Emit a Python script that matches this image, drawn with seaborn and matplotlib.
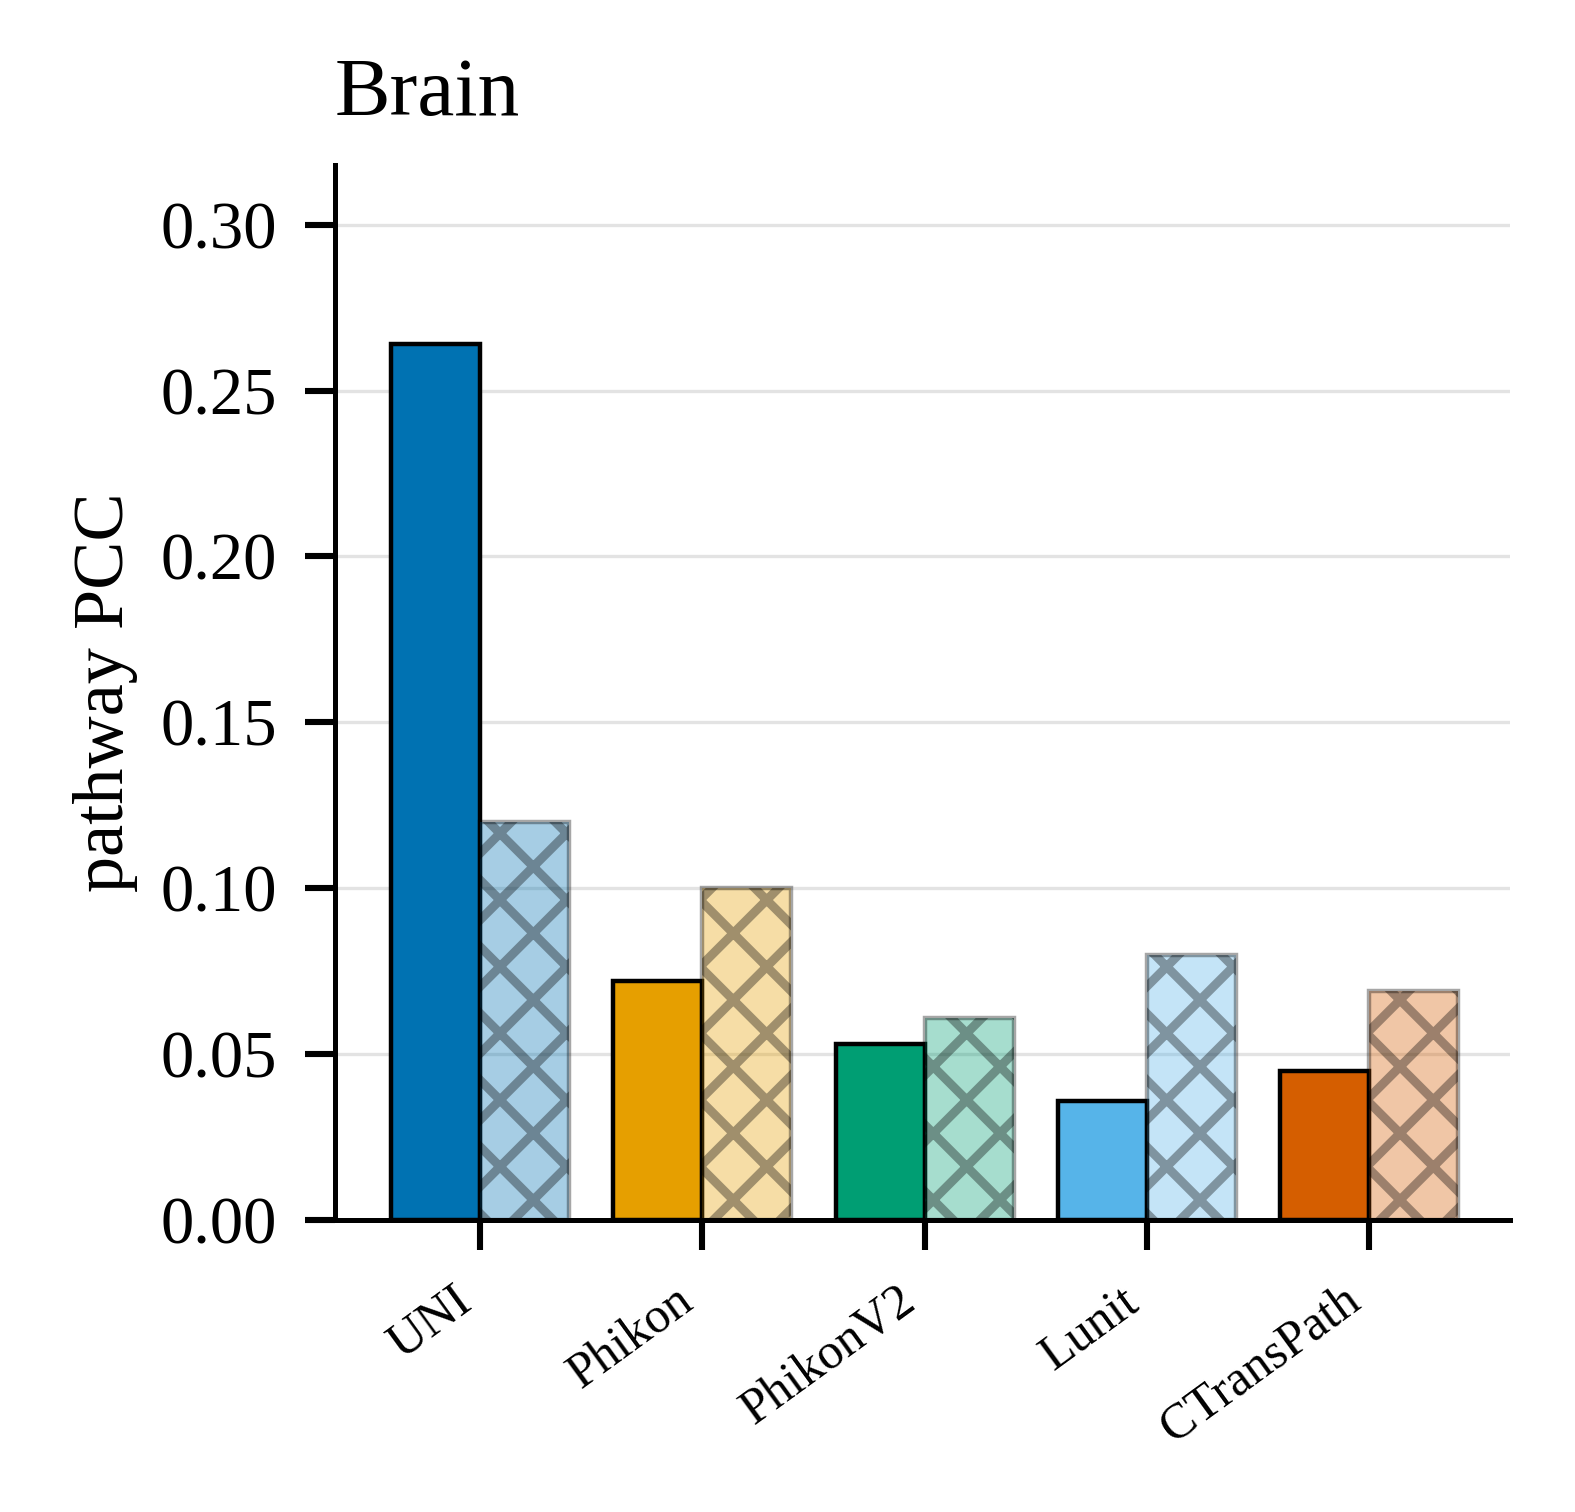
import seaborn as sns
import matplotlib.pyplot as plt
import pandas as pd

# values
models = ["UNI", "Phikon", "PhikonV2", "Lunit", "CTransPath"]
solid_vals = [0.264, 0.072, 0.053, 0.036, 0.045]
hatched_vals = [0.120, 0.100, 0.061, 0.080, 0.069]
variants = ["base", "hatched"]
colors = ["#0072B2", "#E69F00", "#009E73", "#56B4E9", "#D55E00"]
yticks = [0.00, 0.05, 0.10, 0.15, 0.20, 0.25, 0.30]


def build_frame():
    rows = []
    for m, a, b in zip(models, solid_vals, hatched_vals):
        rows.append({"model": m, "variant": variants[0], "pcc": a})
        rows.append({"model": m, "variant": variants[1], "pcc": b})
    return pd.DataFrame(rows)


def plot_brain(df):
    sns.set_style("white")
    plt.rcParams["font.family"] = ["Liberation Serif", "DejaVu Serif"]
    plt.rcParams["hatch.linewidth"] = 1.6
    for k in ["text.color", "axes.labelcolor", "xtick.color", "ytick.color"]:
        plt.rcParams[k] = "black"

    fig = plt.figure(figsize=(3.9375, 3.78), dpi=400)
    ax = fig.add_axes([0.2127, 0.1931, 0.9585 - 0.2127, 0.8909 - 0.1931])

    sns.barplot(data=df, x="model", y="pcc", hue="variant", order=models,
                hue_order=variants, width=0.8, ax=ax, legend=False, zorder=2)

    # recolour bars per model, second hue level gets light fill + hatch
    for i, cont in enumerate(ax.containers):
        for j, bar in enumerate(cont):
            bar.set_facecolor(colors[j])
            bar.set_edgecolor("black")
            bar.set_linewidth(0.8)
            if i == 1:
                bar.set_alpha(0.35)
                bar.set_hatch("xx")

    ax.set_xlim(-0.65, 4.63)
    ax.set_ylim(0, 0.318)
    ax.set_yticks(yticks)
    ax.set_yticklabels([f"{t:.2f}" for t in yticks])
    ax.yaxis.grid(True, color="#e3e3e3", linewidth=0.6, zorder=0)
    ax.set_axisbelow(True)

    ax.set_xlabel("")
    ax.set_ylabel("pathway PCC", fontsize=13, labelpad=4)
    ax.set_title("Brain", loc="left", fontsize=15, pad=9)

    ax.tick_params(axis="y", left=True, labelsize=12, length=5.4, width=1.1,
                   direction="out", pad=5)
    ax.tick_params(axis="x", bottom=True, labelsize=9, length=5.4, width=1.1,
                   direction="out", pad=5)
    plt.setp(ax.get_xticklabels(), rotation=36, ha="right")

    sns.despine(ax=ax)
    for s in ["left", "bottom"]:
        ax.spines[s].set_linewidth(0.9)
        ax.spines[s].set_color("black")

    fig.savefig("out.png", dpi=400)


if __name__ == "__main__":
    df = build_frame()
    plot_brain(df)
